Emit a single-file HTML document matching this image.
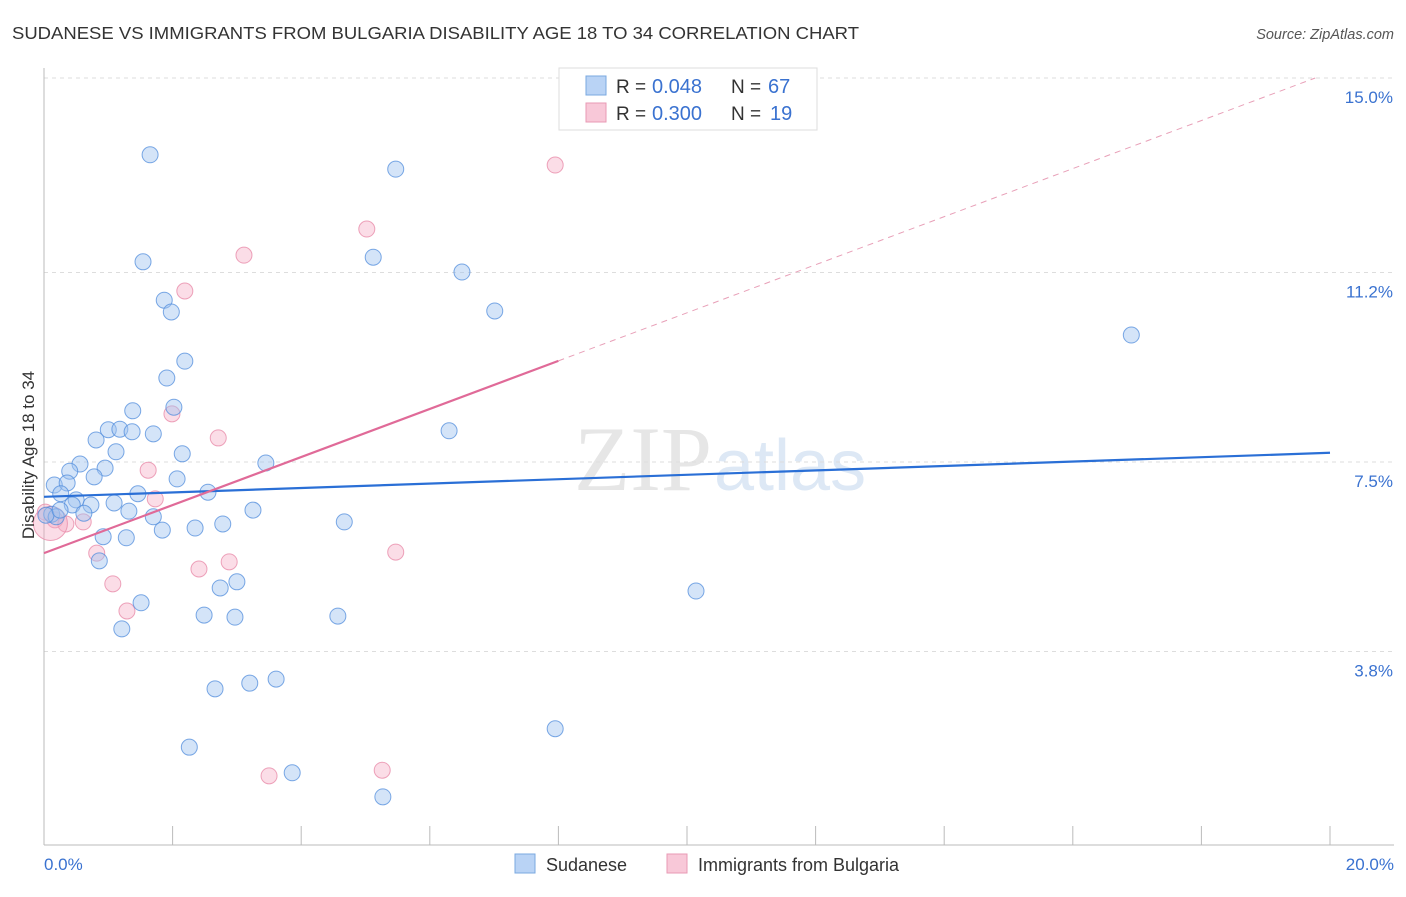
<!DOCTYPE html>
<html><head><meta charset="utf-8"><style>
body{margin:0;background:#fff;width:1406px;height:892px;overflow:hidden;font-family:"Liberation Sans",sans-serif}
</style></head><body>
<svg id="chart" width="1406" height="892" xmlns="http://www.w3.org/2000/svg" font-family="Liberation Sans, sans-serif">
<text x="12" y="39" font-size="17.5" fill="#333" textLength="847" lengthAdjust="spacingAndGlyphs">SUDANESE VS IMMIGRANTS FROM BULGARIA DISABILITY AGE 18 TO 34 CORRELATION CHART</text>
<text x="1394" y="39" font-size="14.5" fill="#555" font-style="italic" text-anchor="end">Source: ZipAtlas.com</text>
<text x="712" y="490" font-size="92" fill="#e6e6e6" text-anchor="end" font-family="Liberation Serif, serif">ZIP</text>
<text x="714" y="490" font-size="72" fill="#dde8f5">atlas</text>
<g id="grid"></g>
<g id="axes"></g>
<g id="points"></g>
<g id="trends"></g>
<text transform="translate(34,455) rotate(-90)" font-size="17" fill="#333" text-anchor="middle">Disability Age 18 to 34</text>
<g>
<rect x="559" y="68" width="258" height="62" fill="#fff" stroke="#ddd"/>
<rect x="586" y="76" width="20" height="19" fill="#b9d3f5" stroke="#7aa8e0"/>
<text x="616" y="93" font-size="19" fill="#333">R =</text>
<text x="652" y="93" font-size="20" fill="#3a72d0">0.048</text>
<text x="731" y="93" font-size="19" fill="#333">N =</text>
<text x="768" y="93" font-size="20" fill="#3a72d0">67</text>
<rect x="586" y="103" width="20" height="19" fill="#f8c8d8" stroke="#e89ab4"/>
<text x="616" y="120" font-size="19" fill="#333">R =</text>
<text x="652" y="120" font-size="20" fill="#3a72d0">0.300</text>
<text x="731" y="120" font-size="19" fill="#333">N =</text>
<text x="770" y="120" font-size="20" fill="#3a72d0">19</text>
</g>
<g>
<rect x="515" y="854" width="20" height="19" fill="#b9d3f5" stroke="#7aa8e0"/>
<text x="546" y="871" font-size="18" fill="#333">Sudanese</text>
<rect x="667" y="854" width="20" height="19" fill="#f8c8d8" stroke="#e89ab4"/>
<text x="698" y="871" font-size="18" fill="#333">Immigrants from Bulgaria</text>
</g>
</svg>
<script>
const blueX=[1.65,5.47,1.54,5.12,6.50,1.87,1.98,7.01,16.91,2.19,1.91,1.38,2.02,1.00,1.18,1.37,1.70,0.81,6.30,1.12,2.15,0.56,0.40,0.95,3.45,0.78,2.07,0.16,0.36,0.26,1.46,2.55,0.50,1.09,0.73,0.44,1.32,3.25,0.12,0.19,0.62,1.70,4.67,2.78,2.35,1.84,0.92,1.28,0.86,3.00,2.74,10.14,1.51,2.49,2.97,4.57,1.21,3.61,3.20,2.66,7.95,2.26,3.86,5.27,0.03,0.25];
const blueY=[13.50,13.22,11.41,11.50,11.21,10.66,10.43,10.45,9.98,9.47,9.14,8.50,8.57,8.13,8.14,8.09,8.05,7.93,8.11,7.70,7.66,7.46,7.32,7.38,7.48,7.21,7.17,7.05,7.09,6.88,6.88,6.91,6.76,6.70,6.66,6.66,6.54,6.56,6.48,6.43,6.50,6.43,6.33,6.29,6.21,6.17,6.04,6.02,5.57,5.16,5.04,4.98,4.75,4.51,4.47,4.49,4.24,3.26,3.18,3.07,2.29,1.93,1.43,0.96,6.46,6.56];
const pinkX=[7.95,5.02,3.11,2.19,2.71,1.99,1.62,1.73,0.02,0.17,0.34,0.61,0.82,5.47,2.88,2.41,1.07,1.29,3.50,5.26,0.1];
const pinkY=[13.30,12.05,11.54,10.84,7.97,8.44,7.34,6.78,6.52,6.37,6.29,6.33,5.72,5.74,5.55,5.41,5.12,4.59,1.37,1.48,6.3];
const yTicks=[15.0,11.2,7.5,3.8];
const yTickLabels=["15.0%","11.2%","7.5%","3.8%"];
const xLabels=["0.0%","20.0%"];
const blueTrend=[6.82,7.68];
const pinkTrend=[5.72,15.0];
const NS="http://www.w3.org/2000/svg";
const X=v=>44+v*64.3, Y=v=>846-v*51.2;
function mk(tag,parent,attrs){const e=document.createElementNS(NS,tag);for(const k in attrs)e.setAttribute(k,attrs[k]);document.getElementById(parent).appendChild(e);return e;}
yTicks.forEach((t,i)=>{
 const g=mk('line','grid',{x1:44,x2:1394,y1:Y(t),y2:Y(t),stroke:'#ddd','stroke-dasharray':'4,4'});
 
 
 const l=mk('text','grid',{x:1393,y:Y(t)+25,'font-size':17,fill:'#3a72d0','text-anchor':'end'});
 l.textContent=yTickLabels[i];
 
 
});
let a=mk('line','axes',{x1:44,x2:44,y1:68,y2:845,stroke:'#bbb'});


a=mk('line','axes',{x1:44,x2:1394,y1:845,y2:845,stroke:'#bbb'});


for(let i=1;i<=10;i++){const t=mk('line','axes',{x1:X(i*2),x2:X(i*2),y1:826,y2:845,stroke:'#bbb'});
 
 }
[[0,'start',44],[20,'end',1394]].forEach((d,i)=>{const t=mk('text','axes',{x:d[2],y:870,'font-size':17,fill:'#3a72d0','text-anchor':d[1]});t.textContent=xLabels[i];
 
 });
pinkX.forEach((x,i)=>{const c=mk('circle','points',{cx:X(x),cy:Y(pinkY[i]),r:i==pinkX.length-1?17:8,fill:'rgba(244,170,195,0.4)',stroke:'rgba(232,140,170,0.8)'});
 
 });
blueX.forEach((x,i)=>{const c=mk('circle','points',{cx:X(x),cy:Y(blueY[i]),r:8,fill:'rgba(160,196,240,0.45)',stroke:'rgba(80,140,220,0.75)'});
 
 });
let tl=mk('line','trends',{x1:X(0),y1:Y(blueTrend[0]),x2:X(20),y2:Y(blueTrend[1]),stroke:'#2a6fd6','stroke-width':2.2});


const ps=(pinkTrend[1]-pinkTrend[0])/19.77;
tl=mk('line','trends',{x1:X(0),y1:Y(pinkTrend[0]),x2:X(8),y2:Y(pinkTrend[0]+ps*8),stroke:'#e06a98','stroke-width':2.2});


tl=mk('line','trends',{x1:X(8),y1:Y(pinkTrend[0]+ps*8),x2:X(19.77),y2:Y(pinkTrend[1]),stroke:'#e8a0b8','stroke-width':1,'stroke-dasharray':'6,5'});


</script>
</body></html>
